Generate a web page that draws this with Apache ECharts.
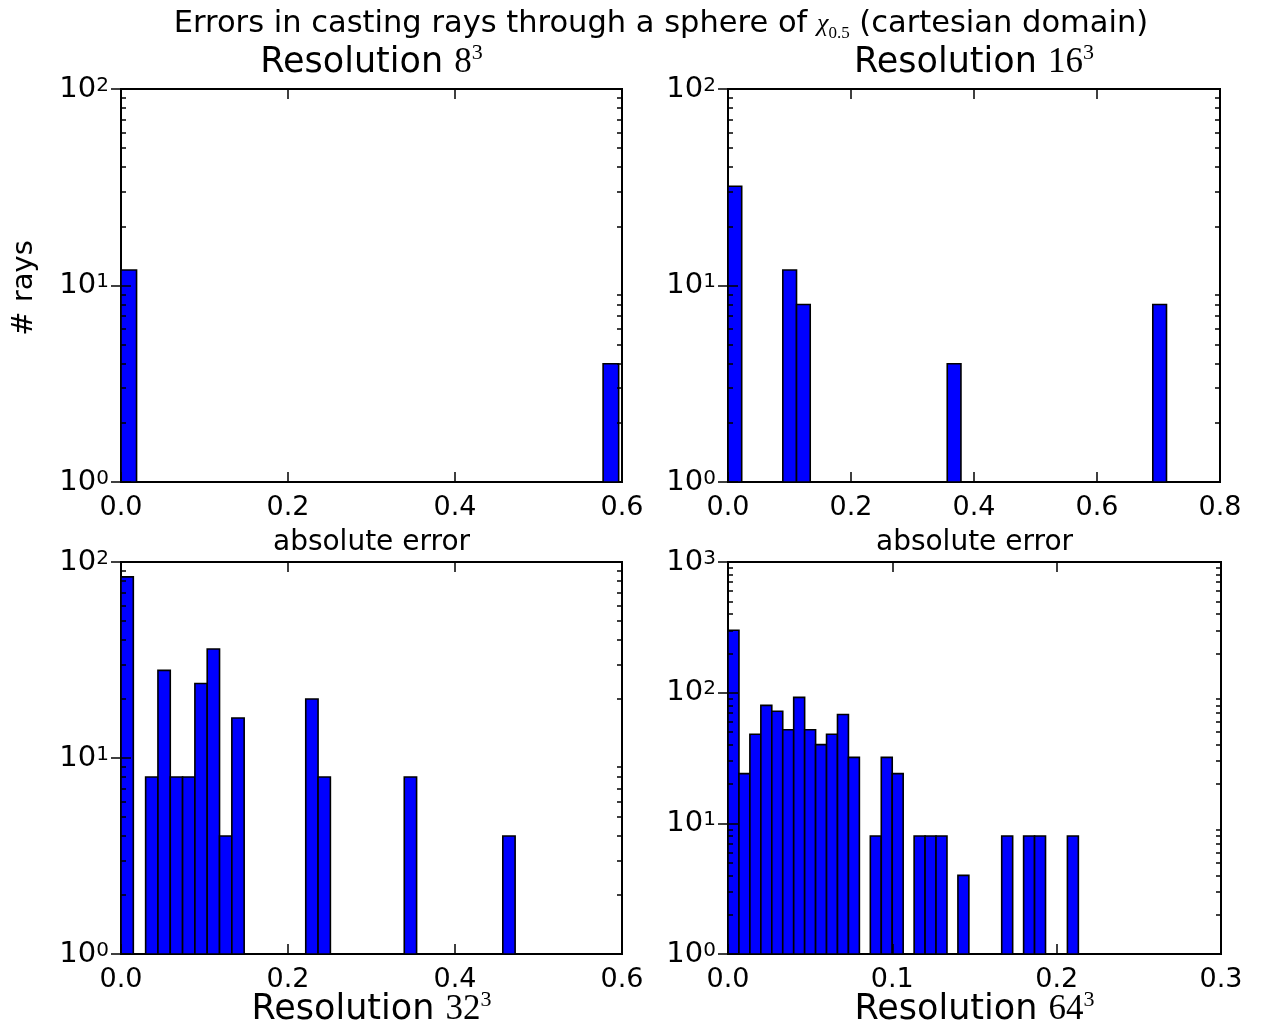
<!DOCTYPE html>
<html>
<head>
<meta charset="utf-8">
<script src="https://cdn.jsdelivr.net/npm/echarts@6/dist/echarts.min.js"></script>
<style>
  html, body { margin: 0; padding: 0; background: #fff; }
  #chart { width: 1270px; height: 1029px; }
</style>
</head>
<body>
<div id="chart"></div>
<script>
// histogram counts, 32 bins over [0, maxErr] for each resolution
const resolutions = ['8', '16', '32', '64'];
const counts8  = [12,0,0,0,0,0,0,0, 0,0,0,0,0,0,0,0, 0,0,0,0,0,0,0,0, 0,0,0,0,0,0,0,4];
const counts16 = [32,0,0,0,12,8,0,0, 0,0,0,0,0,0,0,0, 4,0,0,0,0,0,0,0, 0,0,0,0,0,0,0,8];
const counts32 = [84,0,8,28,8,8,24,36, 4,16,0,0,0,0,0,20, 8,0,0,0,0,0,0,8, 0,0,0,0,0,0,0,4];
const counts64 = [300,24,48,80,72,52,92,52, 40,48,68,32,0,8,32,24, 0,8,8,8,0,4,0,0, 0,8,0,8,8,0,0,8];
const allCounts = [counts8, counts16, counts32, counts64];
const maxErr = [0.596, 0.713, 0.472, 0.2132];

// axis ranges and ticks
const xMax = [0.6, 0.8, 0.6, 0.3];
const xStep = [0.2, 0.2, 0.2, 0.1];
const yMax = [100, 100, 100, 1000];
const majorTicks = [1, 10, 100, 1000];
const minorTicks = [2,3,4,5,6,7,8,9, 20,30,40,50,60,70,80,90, 200,300,400,500,600,700,800,900];

const grids = [
  { left: 121, top: 89, width: 501, height: 393 },
  { left: 728, top: 89, width: 492, height: 393 },
  { left: 121, top: 562, width: 501, height: 392 },
  { left: 728, top: 562, width: 493, height: 392 }
];

const SANS = 'DejaVu Sans';
const SERIF = 'Liberation Serif';

function histItem(params, api) {
  const a = api.coord([api.value(0), api.value(2)]);
  const b = api.coord([api.value(1), 1]);
  return {
    type: 'rect',
    shape: { x: a[0], y: a[1], width: b[0] - a[0], height: b[1] - a[1] },
    style: { fill: '#0000ff', stroke: '#000', lineWidth: 1.6 }
  };
}

const gridOpts = [], xAxes = [], yAxes = [], series = [];
const n = grids.length;

// main grids: frame, major ticks, labels, bars
grids.forEach((g, i) => {
  gridOpts.push(Object.assign({ show: true, borderColor: '#000', borderWidth: 2,
    backgroundColor: 'transparent' }, g));
  const tick = { inside: true, length: 10, lineStyle: { color: '#000', width: 1.5 } };
  const base = { gridIndex: i, type: 'value', min: 0, max: xMax[i], interval: xStep[i], z: 10,
    axisLine: { show: false }, splitLine: { show: false } };
  xAxes.push(Object.assign({}, base, { position: 'bottom', axisTick: tick,
    axisLabel: { fontFamily: SANS, fontSize: 27, color: '#000', margin: 12,
      formatter: v => v.toFixed(1) } }));
  xAxes.push(Object.assign({}, base, { position: 'top', axisTick: tick,
    axisLabel: { show: false } }));

  const majors = majorTicks.filter(v => v <= yMax[i]);
  const ybase = { gridIndex: i, type: 'log', logBase: 10, min: 1, max: yMax[i], z: 10,
    axisLine: { show: false }, splitLine: { show: false } };
  yAxes.push(Object.assign({}, ybase, { position: 'left',
    axisTick: Object.assign({}, tick, { customValues: majors }),
    axisLabel: { customValues: majors, margin: 12, color: '#000',
      formatter: v => '{b|10}{s|' + Math.round(Math.log10(v)) + '}',
      rich: {
        b: { fontFamily: SANS, fontSize: 29, lineHeight: 27, color: '#000' },
        s: { fontFamily: SANS, fontSize: 20, lineHeight: 20, verticalAlign: 'top', color: '#000' }
      } } }));
  yAxes.push(Object.assign({}, ybase, { position: 'right',
    axisTick: Object.assign({}, tick, { customValues: majors }), axisLabel: { show: false } }));

  const w = maxErr[i] / allCounts[i].length;
  const data = allCounts[i]
    .map((c, k) => [k * w, (k + 1) * w, c])
    .filter(d => d[2] > 0);
  series.push({
    type: 'custom', xAxisIndex: 2 * i, yAxisIndex: 2 * i,
    renderItem: histItem, data: data,
    encode: { x: [0, 1], y: 2 }, silent: true
  });
});

// overlay grids on the same rectangles carrying the minor log ticks
grids.forEach((g, i) => {
  const gi = n + i;
  gridOpts.push(Object.assign({ show: false }, g));
  xAxes.push({ gridIndex: gi, type: 'value', min: 0, max: xMax[i], show: false });
  const minors = minorTicks.filter(v => v < yMax[i]);
  const minorTick = { inside: true, length: 5, lineStyle: { color: '#000', width: 1.5 }, customValues: minors };
  ['left', 'right'].forEach(pos => {
    yAxes.push({ gridIndex: gi, type: 'log', logBase: 10, min: 1, max: yMax[i], position: pos, z: 10,
      axisLine: { show: false }, splitLine: { show: false },
      axisTick: minorTick, axisLabel: { show: false } });
  });
});

function label(text, x, y, rich, rotation) {
  return {
    type: 'text', x: x, y: y, rotation: rotation || 0, silent: true,
    style: { text: text, rich: rich, align: 'center', verticalAlign: 'middle',
      textAlign: 'center', textVerticalAlign: 'middle', fill: '#000' }
  };
}

const titleRich = {
  n: { fontFamily: SANS, fontSize: 35, lineHeight: 42, color: '#000' },
  m: { fontFamily: SERIF, fontSize: 35, lineHeight: 42, color: '#000' },
  s: { fontFamily: SERIF, fontSize: 22, lineHeight: 20, verticalAlign: 'top', color: '#000' }
};
const resTitle = r => '{n|Resolution }{m|' + r + '}{s|3}';
const centers = grids.map(g => g.left + g.width / 2);
const small = { a: { fontFamily: SANS, fontSize: 28, color: '#000' } };

const graphics = [
  label('{t|Errors in casting rays through a sphere of }{m|χ}{sub|0.5}{t| (cartesian domain)}', 661, 24, {
    t: { fontFamily: SANS, fontSize: 30.5, lineHeight: 36, color: '#000' },
    m: { fontFamily: SERIF, fontSize: 26, fontStyle: 'italic', lineHeight: 36, color: '#000' },
    sub: { fontFamily: SERIF, fontSize: 17, lineHeight: 26, verticalAlign: 'bottom', color: '#000' }
  }),
  label(resTitle(resolutions[0]), centers[0], 63, titleRich),
  label(resTitle(resolutions[1]), centers[1], 63, titleRich),
  label('{a|absolute error}', centers[2], 543, small),
  label('{a|absolute error}', centers[3], 543, small),
  label(resTitle(resolutions[2]), centers[2], 1010, titleRich),
  label(resTitle(resolutions[3]), centers[3], 1010, titleRich),
  label('{a|# rays}', 24, 288, { a: { fontFamily: SANS, fontSize: 29, color: '#000' } }, Math.PI / 2)
];

const chart = echarts.init(document.getElementById('chart'), null, { renderer: 'canvas' });
chart.setOption({
  animation: false,
  backgroundColor: '#fff',
  grid: gridOpts,
  xAxis: xAxes,
  yAxis: yAxes,
  series: series,
  graphic: graphics
});
</script>
</body>
</html>
